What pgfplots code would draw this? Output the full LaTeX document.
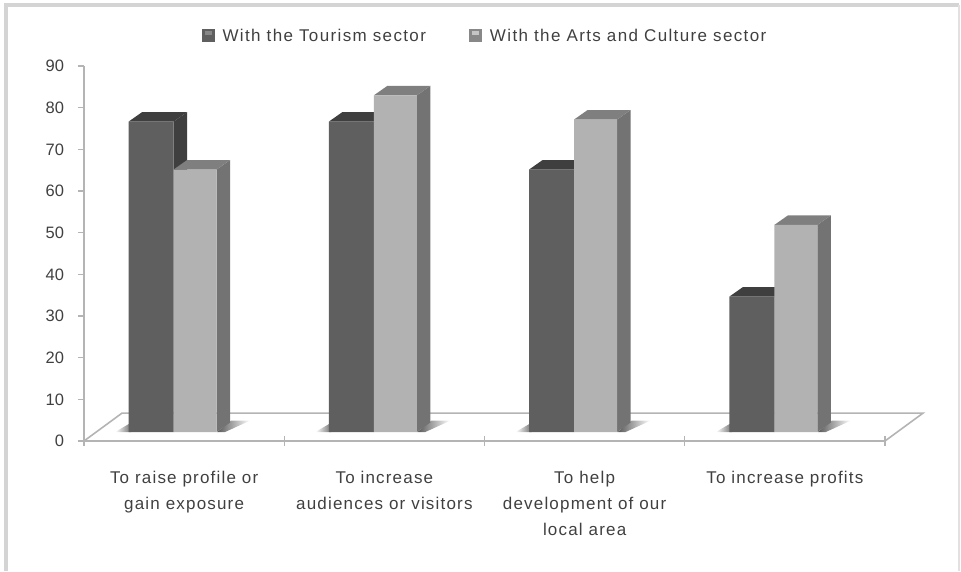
\documentclass[border=0pt]{standalone}
\usepackage{fontspec}
\setmainfont{Liberation Sans}
\usepackage{pgfplots}
\usepackage{pgfplotstable}
\pgfplotsset{compat=1.18}

\definecolor{axisgrey}{HTML}{B4B4B4}
\definecolor{framegrey}{HTML}{D4D4D4}
\definecolor{textgrey}{HTML}{404040}
\definecolor{darkfront}{HTML}{5F5F5F}
\definecolor{darkside}{HTML}{3F3F3F}
\definecolor{lightfront}{HTML}{B2B2B2}
\definecolor{lightside}{HTML}{737373}
\definecolor{lighttop}{HTML}{7F7F7F}

\pgfplotstableread{
pos tourism arts
0.5 74.5 63
1.5 74.5 80.8
2.5 63 75
3.5 32.5 49.7
}\benefits

% Depth of the columns, in points, and the lift of their base above the axis
\newcommand{\depthx}{13.5}
\newcommand{\depthy}{9.5}
\newcommand{\lift}{9}
\newcommand{\unitx}{200.25}
\newcommand{\unity}{4.1667}

% Side face and top face of one column:
% #1 group position, #2 value, #3 left edge and #4 right edge (pt from the group centre),
% #5 side colour, #6 top colour
\newcommand{\columnfaces}[6]{%
  \pgfmathsetmacro{\xl}{#1+(#3)/\unitx}%
  \pgfmathsetmacro{\xr}{#1+(#4)/\unitx}%
  \pgfmathsetmacro{\xrb}{\xr+\depthx/\unitx}%
  \pgfmathsetmacro{\xlb}{\xl+\depthx/\unitx}%
  \pgfmathsetmacro{\vb}{#2+\depthy/\unity}%
  \pgfmathsetmacro{\vf}{\depthy/\unity}%
  \addplot[forget plot, draw=none, fill=#5, yshift=\lift pt] coordinates
    {(\xr,0) (\xr,#2) (\xrb,\vb) (\xrb,\vf)} --cycle;
  \addplot[forget plot, draw=none, fill=#6, yshift=\lift pt] coordinates
    {(\xl,#2) (\xr,#2) (\xrb,\vb) (\xlb,\vb)} --cycle;
}

\begin{document}
\begin{tikzpicture}[x=1pt,y=1pt]
  \path[use as bounding box] (-84,-130) rectangle (877,441);
  % Outer chart frame
  \draw[framegrey, line width=3.5pt] (-78,-130) -- (-78,436) -- (875,436);
  \draw[framegrey!70, line width=2pt] (875,436) -- (875,-130);
  \begin{axis}[
    anchor=origin, at={(0pt,0pt)},
    scale only axis, width=801pt, height=375pt,
    xmin=0, xmax=4, ymin=0, ymax=90,
    clip=false,
    axis x line=bottom, axis y line=left,
    axis line style={axisgrey, line width=1.6pt, -},
    tick style={axisgrey, line width=1.2pt},
    ytick={0,10,...,90},
    ytick align=outside, ytick pos=left,
    xtick={0.5,1.5,2.5,3.5},
    xticklabels={To raise profile or\\gain exposure,
                 To increase\\audiences or visitors,
                 To help\\development of our\\local area,
                 To increase profits},
    major x tick style={draw=none},
    minor xtick={0,1,2,3,4},
    minor tick length=10pt,
    major tick length=6pt,
    x tick label style={align=center, font=\fontsize{17}{26}\selectfont\addfontfeatures{LetterSpace=7}, text=textgrey, yshift=-24pt},
    y tick label style={font=\fontsize{16.5}{18}\selectfont, text=textgrey, xshift=-10.5pt},
    /pgf/number format/assume math mode=true,
    legend style={at={(0.5005,1.08)}, anchor=center, draw=none, fill=none,
      legend columns=2, font=\fontsize{17}{18}\selectfont\addfontfeatures{LetterSpace=8}, text=textgrey,
      /tikz/every even column/.append style={column sep=41pt}},
    legend cell align=left,
  ]
    % Floor of the plot
    \addplot[forget plot, draw=axisgrey, line width=1.6pt] coordinates
      {(0,0) (0.19,6.7) (4.19,6.7) (4,0)};

    % Soft shadows on the floor
    \foreach \x in {0.5,1.5,2.5,3.5} {
      \pgfmathsetmacro{\sa}{\x-69/\unitx}
      \pgfmathsetmacro{\sb}{\x-53/\unitx}
      \pgfmathsetmacro{\sc}{\x+33/\unitx}
      \pgfmathsetmacro{\sd}{\x+41/\unitx}
      \pgfmathsetmacro{\se}{\x+66/\unitx}
      \pgfmathsetmacro{\sf}{\x+47/\unitx}
      \edef\shadowplot{\noexpand\addplot[forget plot, draw=none, left color=white, right color=black!55] coordinates
        {(\sa,2.16) (\sb,2.16) (\sb,4.4)} --cycle;
        \noexpand\addplot[forget plot, draw=none, left color=black!65, right color=white] coordinates
        {(\sc,2.16) (\sd,2.16) (\se,4.9) (\sf,4.9)} --cycle;}
      \shadowplot
    }

    % Columns for the Tourism sector
    \columnfaces{0.5}{74.5}{-55.5}{-10.5}{darkside}{darkside}
    \columnfaces{1.5}{74.5}{-55.5}{-10.5}{darkside}{darkside}
    \columnfaces{2.5}{63}{-55.5}{-10.5}{darkside}{darkside}
    \columnfaces{3.5}{32.5}{-55.5}{-10.5}{darkside}{darkside}
    \addlegendimage{legend image code/.code={
      \path[draw=none] (-4pt,0pt) -- (15pt,0pt);
      \fill[darkfront, draw=none] (-4pt,-6pt) rectangle (9pt,7pt);
      \fill[darkfront!75, draw=none] (-1pt,1pt) rectangle (6pt,5pt);}}
    \addlegendentry{With the Tourism sector}
    \addlegendimage{legend image code/.code={
      \path[draw=none] (-4pt,0pt) -- (15pt,0pt);
      \fill[lightside!85, draw=none] (-4pt,-6pt) rectangle (9pt,7pt);
      \fill[lightfront!75, draw=none] (-1pt,1pt) rectangle (6pt,5pt);}}
    \addlegendentry{With the Arts and Culture sector}
    \addplot[forget plot, ybar, bar width=45pt, bar shift=-33pt, yshift=\lift pt, draw=none, fill=darkfront]
      table[x=pos, y=tourism] {\benefits};

    % Columns for the Arts and Culture sector
    \columnfaces{0.5}{63}{-10.5}{32.5}{lightside}{lighttop}
    \columnfaces{1.5}{80.8}{-10.5}{32.5}{lightside}{lighttop}
    \columnfaces{2.5}{75}{-10.5}{32.5}{lightside}{lighttop}
    \columnfaces{3.5}{49.7}{-10.5}{32.5}{lightside}{lighttop}
    \addplot[forget plot, ybar, bar width=43pt, bar shift=11pt, yshift=\lift pt, draw=none, fill=lightfront]
      table[x=pos, y=arts] {\benefits};
  \end{axis}
\end{tikzpicture}
\end{document}
